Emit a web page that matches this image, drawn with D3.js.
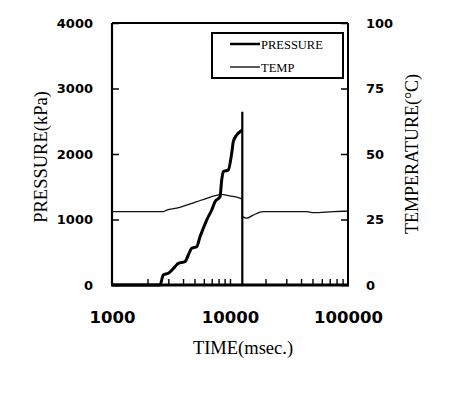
<!DOCTYPE html>
<html>
<head>
<meta charset="utf-8">
<script src="https://cdn.jsdelivr.net/npm/d3@7"></script>
<style>
	body { margin: 0; background: #fff; }
	svg { display: block; }
</style>
</head>
<body>
<div id="chartDiv"></div>
<script>
;(function() {

	// time in msec (log axis), pressure in kPa
	var pressureTime = [1000, 2552, 2720, 3000, 3420, 3647, 4155, 4433, 4736, 5223, 5570, 5939, 6345, 6995, 7463, 8230, 8506, 8775, 9674, 10337, 10666, 11398, 12156, 12713];
	var pressureVal  = [0, 0, 153, 179, 280, 331, 356, 458, 560, 585, 737, 866, 992, 1145, 1272, 1348, 1603, 1730, 1756, 2011, 2188, 2290, 2340, 2366];

	// spike and drop at the end of the run
	var spikeTime = [12713, 12713, 12713, 100000];
	var spikeVal  = [2366, 2646, 0, 0];

	var tempTime = [1000, 2720, 2909, 3535, 4297, 5223, 6345, 7463, 8506, 9674, 11398, 12713];
	var tempVal  = [28.0, 28.0, 28.6, 29.3, 30.5, 31.8, 33.1, 34.1, 34.6, 34.1, 33.5, 32.8];
	var tempAfterTime = [12713, 13850, 15760, 19150, 28300, 44670, 50800, 75060, 100000];
	var tempAfterVal  = [26.1, 25.5, 26.7, 28.0, 28.0, 28.0, 27.6, 28.0, 28.2];

	var xLabelTicks = [1000, 10000, 100000];
	var xMinorTicks = [2000, 3000, 4000, 5000, 6000, 7000, 8000, 9000, 10000,
		20000, 30000, 40000, 50000, 60000, 70000, 80000, 90000];
	var pressureTicks = [0, 1000, 2000, 3000, 4000];
	var tempTicks = [0, 25, 50, 75, 100];

	var legendNames = ["PRESSURE", "TEMP"];

	var width = 450;
	var height = 395;
	var plot = { left: 112, top: 23, right: 348, bottom: 285 };

	var tickFont = "'DejaVu Sans', sans-serif";
	var titleFont = "'Liberation Serif', 'Times New Roman', serif";

	var chart;

	init();

	function init() {
		chart = d3.select("#chartDiv").append("svg")
			.attr("width", width)
			.attr("height", height);

		chart.append("rect")
			.attr("width", width)
			.attr("height", height)
			.attr("fill", "#fff");

		createScales();
		drawLines();
		drawFrame();
		createAxes();
		drawLegend();
	}

	function createScales() {
		chart.xScale = d3.scaleLog()
			.domain([1000, 100000])
			.range([plot.left, plot.right]);

		chart.yScale = d3.scaleLinear()
			.domain([0, 4000])
			.range([plot.bottom, plot.top]);

		chart.tScale = d3.scaleLinear()
			.domain([0, 100])
			.range([plot.bottom, plot.top]);
	}

	function linePath(times, vals, yScale, curve) {
		return d3.line()
			.x(function(d, i) { return chart.xScale(times[i]); })
			.y(function(d) { return yScale(d); })
			.curve(curve)(vals);
	}

	function drawLines() {
		var tStroke = 1.3;

		chart.append("path")
			.attr("d", linePath(tempTime, tempVal, chart.tScale, d3.curveMonotoneX))
			.attr("fill", "none")
			.attr("stroke", "#111")
			.attr("stroke-width", tStroke);

		chart.append("path")
			.attr("d", linePath(tempAfterTime, tempAfterVal, chart.tScale, d3.curveMonotoneX))
			.attr("fill", "none")
			.attr("stroke", "#111")
			.attr("stroke-width", tStroke);

		// join across the drop
		chart.append("line")
			.attr("x1", chart.xScale(tempTime[tempTime.length - 1]))
			.attr("x2", chart.xScale(tempAfterTime[0]))
			.attr("y1", chart.tScale(tempVal[tempVal.length - 1]))
			.attr("y2", chart.tScale(tempAfterVal[0]))
			.attr("stroke", "#111")
			.attr("stroke-width", tStroke);

		chart.append("path")
			.attr("d", linePath(pressureTime, pressureVal, chart.yScale, d3.curveMonotoneX))
			.attr("fill", "none")
			.attr("stroke", "#000")
			.attr("stroke-width", 3)
			.attr("stroke-linejoin", "round");

		chart.append("path")
			.attr("d", linePath(spikeTime, spikeVal, chart.yScale, d3.curveLinear))
			.attr("fill", "none")
			.attr("stroke", "#000")
			.attr("stroke-width", 2.2);
	}

	function createAxes() {

		// x axis minor ticks, pointing in
		chart.append("g")
			.attr("transform", "translate(0," + plot.bottom + ")")
			.call(d3.axisBottom(chart.xScale)
				.tickValues(xMinorTicks)
				.tickSizeInner(-6)
				.tickSizeOuter(0)
				.tickFormat(function() { return ""; }))
			.call(function(g) {
				g.select(".domain").remove();
				g.selectAll("line").attr("stroke", "#000").attr("stroke-width", 1.4);
			});

		// x axis labels
		chart.append("g")
			.attr("transform", "translate(0," + plot.bottom + ")")
			.call(d3.axisBottom(chart.xScale)
				.tickValues(xLabelTicks)
				.tickSize(0)
				.tickPadding(26)
				.tickFormat(d3.format("d")))
			.call(function(g) {
				g.select(".domain").remove();
				g.selectAll("text")
					.attr("fill", "#000")
					.style("font-family", tickFont)
					.style("font-weight", "bold")
					.style("font-size", "16.5px");
			});

		// left y axis
		chart.append("g")
			.attr("transform", "translate(" + plot.left + ",0)")
			.call(d3.axisLeft(chart.yScale)
				.tickValues(pressureTicks)
				.tickSizeInner(-7)
				.tickSizeOuter(0)
				.tickPadding(19)
				.tickFormat(d3.format("d")))
			.call(function(g) {
				g.select(".domain").remove();
				g.selectAll("line").attr("stroke", "#000").attr("stroke-width", 1.5);
				g.selectAll("text")
					.attr("fill", "#000")
					.style("font-family", tickFont)
					.style("font-weight", "bold")
					.style("font-size", "13px");
			});

		// right y axis
		chart.append("g")
			.attr("transform", "translate(" + plot.right + ",0)")
			.call(d3.axisRight(chart.tScale)
				.tickValues(tempTicks)
				.tickSizeInner(-7)
				.tickSizeOuter(0)
				.tickPadding(18)
				.tickFormat(d3.format("d")))
			.call(function(g) {
				g.select(".domain").remove();
				g.selectAll("line").attr("stroke", "#000").attr("stroke-width", 1.5);
				g.selectAll("text")
					.attr("fill", "#000")
					.style("font-family", tickFont)
					.style("font-weight", "bold")
					.style("font-size", "13px");
			});

		// axis titles
		chart.append("text")
			.attr("text-anchor", "middle")
			.attr("x", (plot.left + plot.right) / 2 + 13)
			.attr("y", 354)
			.style("font-family", titleFont)
			.style("font-size", "18.5px")
			.text("TIME(msec.)");

		chart.append("text")
			.attr("text-anchor", "middle")
			.attr("transform", "translate(47," + 157 + ") rotate(-90)")
			.style("font-family", titleFont)
			.style("font-size", "18.5px")
			.text("PRESSURE(kPa)");

		chart.append("text")
			.attr("text-anchor", "middle")
			.attr("transform", "translate(418," + 154 + ") rotate(-90)")
			.style("font-family", titleFont)
			.style("font-size", "18px")
			.text("TEMPERATURE(°C)");
	}

	function drawFrame() {
		var f = chart.append("g").attr("stroke", "#000").attr("fill", "none");
		f.append("line").attr("x1", plot.left).attr("x2", plot.right)
			.attr("y1", plot.top).attr("y2", plot.top).attr("stroke-width", 1.8);
		f.append("line").attr("x1", plot.right).attr("x2", plot.right)
			.attr("y1", plot.top).attr("y2", plot.bottom).attr("stroke-width", 2);
		f.append("line").attr("x1", plot.left).attr("x2", plot.left)
			.attr("y1", plot.top).attr("y2", plot.bottom).attr("stroke-width", 2.2);
		f.append("line").attr("x1", plot.left - 1).attr("x2", plot.right + 1)
			.attr("y1", plot.bottom).attr("y2", plot.bottom).attr("stroke-width", 3);
	}

	function drawLegend() {
		var lg = chart.append("g");

		lg.append("rect")
			.attr("x", 212)
			.attr("y", 33)
			.attr("width", 131)
			.attr("height", 45)
			.attr("fill", "#fff")
			.attr("stroke", "#000")
			.attr("stroke-width", 2);

		var widths = [2.5, 1.3];
		legendNames.forEach(function(name, i) {
			var y = 44 + i * 23;
			lg.append("line")
				.attr("x1", 230)
				.attr("x2", 260)
				.attr("y1", y)
				.attr("y2", y)
				.attr("stroke", "#000")
				.attr("stroke-width", widths[i]);
			lg.append("text")
				.attr("x", 261)
				.attr("y", y + 4.5)
				.style("font-family", titleFont)
				.style("font-size", "12.5px")
				.text(name);
		});
	}
})();
</script>
</body>
</html>
